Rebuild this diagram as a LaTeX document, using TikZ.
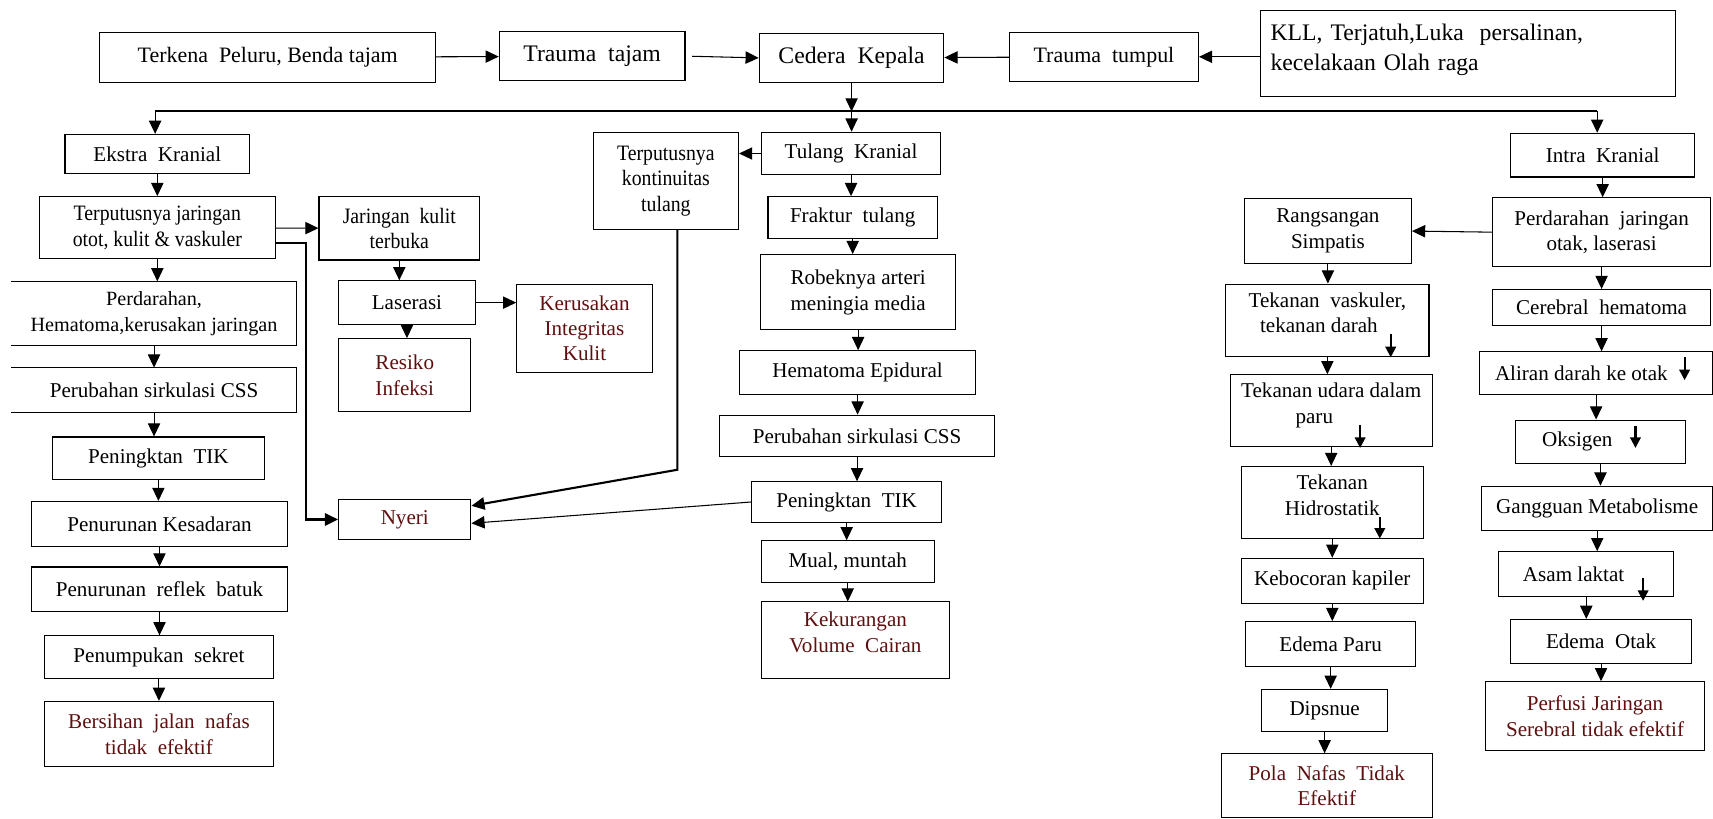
\documentclass[tikz,border=0pt]{standalone}
\usepackage{fontspec}
\setmainfont{Liberation Serif}
\newfontfamily\narrowfont[FakeStretch=0.9]{Liberation Serif}
\usetikzlibrary{arrows.meta}
\definecolor{dxred}{RGB}{95,15,15}
\newcommand\lowpad[1]{\rule[-#1]{0pt}{#1}}
\tikzset{
	box/.style={draw, line width=0.6pt, align=center, inner sep=1pt, font=\fontsize{12}{14.5}\selectfont},
	openbox/.style={box, draw=none},
	boxdim/.style 2 args={minimum width=#1*0.02185cm, minimum height=#2*0.02185cm},
	narrow/.style={font=\narrowfont\fontsize{12.5}{14.5}\selectfont},
	big/.style={font=\fontsize{13.5}{16}\selectfont},
	dx/.style={text=dxred},
	arr/.style={-{Triangle[length=7.5pt,width=7pt]}, line width=0.6pt},
	dnarrow/.style={-{Triangle[length=6pt,width=6pt]}, line width=1.2pt}
}
\begin{document}
\begin{tikzpicture}[x=0.02185cm, y=-0.02185cm]
		\useasboundingbox (0,0) rectangle (1568,749);
		% top row
		\node[box, boxdim={307.5}{46}, font=\fontsize{12.5}{15}\selectfont] (terkena) at (245,52.5) {Terkena~ Peluru, Benda tajam};
		\node[box, big, boxdim={170}{45}] (tajam) at (542,51.5) {Trauma~ tajam};
		\node[box, big, boxdim={169}{45}] (cedera) at (779.5,53) {Cedera~ Kepala};
		\node[box, boxdim={173}{45}, font=\fontsize{12.5}{15}\selectfont] (tumpul) at (1010.5,52) {Trauma~ tumpul};
		\node[box, boxdim={380}{79.5}, align=left, text width=362*0.02185cm, font=\fontsize{13.5}{17}\selectfont] (kll) at (1344,49) {KLL, Terjatuh,Luka~ persalinan,\\kecelakaan Olah raga\lowpad{7pt}};
		% arrows of the top row
		\draw[arr] (terkena) -- (tajam);
		\draw[arr] (tajam.east) ++(6,0) -- (cedera.west);
		\draw[arr] (tumpul) -- (cedera);
		\draw[arr] (kll.west |- tumpul.east) -- (tumpul.east);
		% bus below Cedera Kepala
		\coordinate (busL) at (142,102);
		\coordinate (busR) at (1462,102);
		\draw[arr] (cedera.south) -- (cedera.south |- busL);
		\draw[line width=1.2pt] (busL) -- (busR);
		% ekstra kranial
		\node[box, boxdim={169}{36}] (ekstra) at (144,141) {Ekstra~ Kranial};
		\node[box, narrow, boxdim={216}{57}] (putus) at (144,208.5) {Terputusnya jaringan\\otot, kulit \& vaskuler};
		\node[openbox, boxdim={260}{58}, font=\fontsize{11.5}{14.5}\selectfont] (perdarahan) at (141,287) {Perdarahan,\\Hematoma,kerusakan jaringan};
		\node[openbox, boxdim={260}{40}] (cssL) at (141,357) {Perubahan sirkulasi CSS};
		\draw[line width=0.6pt] (perdarahan.north west) -- (perdarahan.north east) -- (perdarahan.south east) -- (perdarahan.south west);
		\draw[line width=0.6pt] (cssL.north west) -- (cssL.north east) -- (cssL.south east) -- (cssL.south west);
		\node[box, boxdim={194}{39}] (tikL) at (145,419.5) {Peningktan~ TIK};
		\node[box, boxdim={234}{41}] (sadar) at (146,479.5) {Penurunan Kesadaran};
		\node[box, boxdim={234}{41}] (batuk) at (146,539.5) {Penurunan~ reflek~ batuk};
		\node[box, boxdim={209}{39}] (sekret) at (145.5,601.5) {Penumpukan~ sekret};
		\node[box, dx, boxdim={209}{60}] (bersihan) at (145.5,672) {Bersihan~ jalan~ nafas\\tidak~ efektif};
		% kulit and nyeri
		\node[box, narrow, boxdim={147}{58}] (kulit) at (365.5,209) {Jaringan~ kulit\\terbuka};
		\node[box, boxdim={125}{40}] (laserasi) at (372.5,277) {Laserasi};
		\node[box, dx, boxdim={121}{67}] (infeksi) at (370.5,343.5) {Resiko\\Infeksi};
		\node[box, dx, boxdim={124}{81}] (integritas) at (535,300.5) {Kerusakan\\Integritas\\Kulit};
		\node[box, dx, boxdim={121}{37}] (nyeri) at (370.5,475.5) {Nyeri};
		\node[box, narrow, boxdim={133}{89}] (kontinuitas) at (609.5,165.5) {Terputusnya\\kontinuitas\\tulang};
		% tulang kranial
		\node[box, boxdim={164}{39}] (tulang) at (779,140.5) {Tulang~ Kranial};
		\node[box, boxdim={155}{38}] (fraktur) at (780.5,199) {Fraktur~ tulang};
		\node[box, boxdim={179}{69}] (arteri) at (785.5,267.5) {Robeknya arteri\\meningia media};
		\node[box, boxdim={216}{40}] (epidural) at (785,341) {Hematoma Epidural};
		\node[box, boxdim={251}{38}] (cssM) at (784.5,399) {Perubahan sirkulasi CSS};
		\node[box, boxdim={174}{37}] (tikM) at (775,459.5) {Peningktan~ TIK};
		\node[box, boxdim={158}{38}] (mual) at (776,514) {Mual, muntah};
		\node[box, dx, boxdim={172}{70}] (cairan) at (783,586) {Kekurangan\\Volume~ Cairan\lowpad{9pt}};
		% paru
		\node[box, boxdim={153}{59}] (simpatis) at (1215.5,211.5) {Rangsangan\\Simpatis};
		\node[box, boxdim={186}{66}] (vaskuler) at (1215,293) {Tekanan~ vaskuler,\\tekanan darah\hspace{0.8em}\lowpad{8.5pt}};
		\node[box, boxdim={185}{66}] (udara) at (1218.5,376) {Tekanan udara dalam\\paru\hspace{1.6em}\lowpad{8.5pt}};
		\node[box, boxdim={167}{66}] (hidro) at (1219.5,460) {Tekanan\\Hidrostatik\lowpad{8.5pt}};
		\node[box, boxdim={167}{41}] (kapiler) at (1219.5,531.5) {Kebocoran kapiler};
		\node[box, boxdim={156}{41}] (paru) at (1218,589.5) {Edema Paru};
		\node[box, boxdim={115}{39}] (dipsnue) at (1212.5,650.5) {Dipsnue};
		\node[box, dx, boxdim={193}{58}] (pola) at (1214.5,719) {Pola~ Nafas~ Tidak\\Efektif};
		% intra kranial
		\node[box, boxdim={168}{40}] (intra) at (1467,142) {Intra~ Kranial};
		\node[box, boxdim={200}{63}] (jaringan) at (1466,212.5) {Perdarahan~ jaringan\\otak, laserasi};
		\node[box, boxdim={200}{33}] (hematoma) at (1466,281.5) {Cerebral~ hematoma};
		\node[box, boxdim={214}{39}] (aliran) at (1461,341.5) {Aliran darah ke otak\hspace{1.4em}};
		\node[box, boxdim={156}{40}] (oksigen) at (1465,404.5) {Oksigen\hspace{2.2em}};
		\node[box, boxdim={212}{41}] (metabolisme) at (1462,465.5) {Gangguan Metabolisme};
		\node[box, boxdim={160}{41}] (laktat) at (1452,525.5) {Asam laktat\hspace{1.2em}};
		\node[box, boxdim={165}{40}] (otak) at (1465.5,587) {Edema~ Otak};
		\node[box, dx, boxdim={200}{63}] (perfusi) at (1460,655.5) {Perfusi Jaringan\\Serebral tidak efektif};
		% arrows from the bus
		\draw[arr] (busL) -- (busL |- ekstra.north);
		\draw[arr] (cedera.south |- busL) -- (cedera.south |- tulang.north);
		\draw[arr] (busR) -- (busR |- intra.north);
		% arrows down each column
		\foreach \a/\b in {ekstra/putus, putus/perdarahan, perdarahan/cssL, cssL/tikL, tikL/sadar, sadar/batuk, batuk/sekret, sekret/bersihan,
			kulit/laserasi, laserasi/infeksi,
			tulang/fraktur, fraktur/arteri, arteri/epidural, epidural/cssM, cssM/tikM, tikM/mual, mual/cairan,
			simpatis/vaskuler, vaskuler/udara, udara/hidro, hidro/kapiler, kapiler/paru, paru/dipsnue, dipsnue/pola,
			intra/jaringan, jaringan/hematoma, hematoma/aliran, aliran/oksigen, oksigen/metabolisme, metabolisme/laktat, laktat/otak, otak/perfusi}
		{
			\draw[arr] (\a.south) -- (\a.south |- \b.north);
		}
		% arrows sideways
		\draw[arr] (putus) -- (kulit);
		\draw[arr, line width=1.2pt] (putus.east |- 0,222.5) -- (280,222.5) |- (nyeri.west);
		\draw[arr] (laserasi) -- (integritas.west |- laserasi);
		\draw[arr] (tulang.west) -- (kontinuitas.east |- tulang.west);
		\draw[arr, line width=1.2pt] (kontinuitas.south -| 620,0) -- (620,430) -- (nyeri.east |- 0,463);
		\draw[arr] (tikM.west) -- (nyeri.east |- 0,479);
		\draw[arr] (jaringan.west) -- (simpatis.east);
		% small down arrows inside the boxes
		\draw[dnarrow] (1273,306) -- (1273,327);
		\draw[dnarrow] (1245,389) -- (1245,410);
		\draw[dnarrow] (1263,473) -- (1263,493);
		\draw[dnarrow] (1542,327) -- (1542,348);
		\draw[dnarrow] (1497,390) -- (1497,410);
		\draw[dnarrow] (1504,529) -- (1504,550);
	\end{tikzpicture}
\end{document}
